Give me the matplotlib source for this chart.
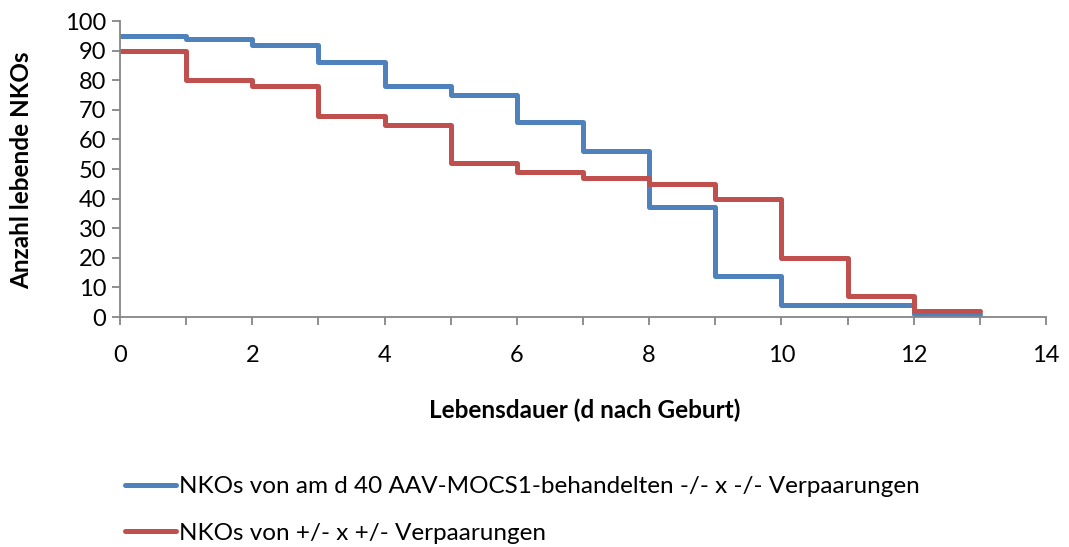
import matplotlib
matplotlib.use("Agg")
import matplotlib.pyplot as plt
from matplotlib.lines import Line2D

plt.rcParams['font.family'] = ['Lato', 'DejaVu Sans']

# Survival counts per day after birth
days = [0, 1, 2, 3, 4, 5, 6, 7, 8, 9, 10, 11, 12, 13]
treated = [95, 94, 92, 86, 78, 75, 66, 56, 37, 14, 4, 4, 1, 1]
hetero = [90, 80, 78, 68, 65, 52, 49, 47, 45, 40, 20, 7, 2, 2]

labels = ["NKOs von am d 40 AAV-MOCS1-behandelten -/- x -/- Verpaarungen",
          "NKOs von +/- x +/- Verpaarungen"]
colors = ["#4F81BD", "#C0504D"]

x_ticks = list(range(0, 15))
x_ticklabels = [str(v) if v % 2 == 0 else "" for v in x_ticks]
y_ticks = list(range(0, 101, 10))

fig = plt.figure(figsize=(10.69, 5.47), dpi=100)
ax = fig.add_axes([120 / 1069, 1 - 317 / 547, (1046 - 120) / 1069, (317 - 21) / 547])

for series, col, lab in zip([treated, hetero], colors, labels):
    ax.step(days, series, where='post', color=col, lw=3.6,
            solid_joinstyle='round', solid_capstyle='round', label=lab)

ax.set_xlim(0, 14)
ax.set_ylim(0, 100)
ax.set_xticks(x_ticks)
ax.set_xticklabels(x_ticklabels)
ax.set_yticks(y_ticks)

spine_col = "#868686"
for s in ['top', 'right']:
    ax.spines[s].set_visible(False)
for s in ['left', 'bottom']:
    ax.spines[s].set_color(spine_col)
    ax.spines[s].set_linewidth(1.3)
ax.tick_params(axis='both', colors=spine_col, width=1.3, length=6, labelsize=17,
               labelcolor='black', direction='out')
ax.tick_params(axis='x', pad=14)
ax.tick_params(axis='y', pad=4)

fig.text(22 / 1069, 1 - 170 / 547, "Anzahl lebende NKOs", fontsize=17.5,
         fontweight='bold', ha='center', va='center', rotation=90)
fig.text(585 / 1069, 1 - 410 / 547, "Lebensdauer (d nach Geburt)", fontsize=17.5,
         fontweight='bold', ha='center', va='center')

handles = [Line2D([], [], color=c, lw=3.6, solid_capstyle='round') for c in colors]
fig.legend(handles, labels, loc='upper left', bbox_to_anchor=(125 / 1069, 1 - 476 / 547),
           frameon=False, fontsize=17.5, handlelength=2.1, handletextpad=0.12,
           labelspacing=1.05, borderaxespad=0, borderpad=0)

fig.savefig("out.png", dpi=100)
